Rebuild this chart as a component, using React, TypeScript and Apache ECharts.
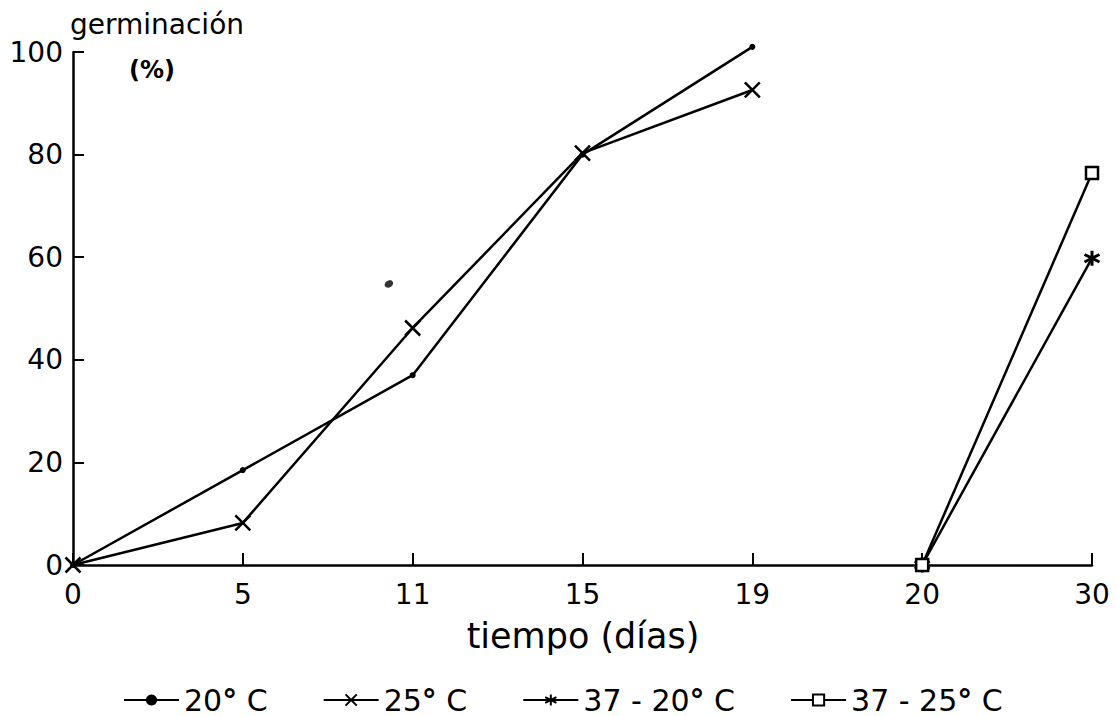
import React, { useEffect, useRef } from "react";
import * as echarts from "echarts";

// x axis categories (days) and y ticks
const categories = ["0", "5", "11", "15", "19", "20", "30"];
const yMin = 0;
const yMax = 100;
const yInterval = 20;

// series values
const days20 = ["0", "5", "11", "15", "19"];
const germ20 = [0, 18.5, 37, 80, 101];
const days25 = ["0", "5", "11", "15", "19"];
const germ25 = [0, 8.2, 46.2, 80.3, 92.6];
const days3720 = ["20", "30"];
const germ3720 = [0, 59.8];
const days3725 = ["20", "30"];
const germ3725 = [0, 76.4];

// stray mark present in the figure (position in category-index units)
const strayX = [1.86];
const strayY = [54.8];

const seriesNames = ["20° C", "25° C", "37 - 20° C", "37 - 25° C"];

const FONT = "DejaVu Sans";

function pts(days: string[], vals: number[]) {
  return days.map((d, i) => [categories.indexOf(d), vals[i]]);
}

const X_PATH = "path://M0,0L10,10M0,10L10,0";
const AST_PATH = "path://M5,0L5,10M0.7,2.5L9.3,7.5M0.7,7.5L9.3,2.5";

export default function App() {
  const ref = useRef<HTMLDivElement>(null);
  useEffect(() => {
    if (!ref.current) return;
    const chart = echarts.init(ref.current, undefined, { renderer: "svg" });
    const lineStyle = { color: "#000", width: 2.5 };
    chart.setOption({
      animation: false,
      backgroundColor: "#fff",
      grid: { left: 73, right: 25, top: 52, bottom: 151, containLabel: false },
      xAxis: {
        type: "value",
        min: 0,
        max: categories.length - 1,
        interval: 1,
        axisLine: { show: true, onZero: false, lineStyle: { color: "#000", width: 2.5 } },
        axisTick: { show: true, inside: true, length: 12, lineStyle: { color: "#000", width: 2 } },
        splitLine: { show: false },
        axisLabel: {
          color: "#000",
          fontFamily: FONT,
          fontSize: 28,
          margin: 15,
          formatter: (v: number) => categories[Math.round(v)] ?? "",
        },
      },
      yAxis: {
        type: "value",
        min: yMin,
        max: yMax,
        interval: yInterval,
        axisLine: { show: true, lineStyle: { color: "#000", width: 2.5 } },
        axisTick: { show: true, inside: true, length: 11, lineStyle: { color: "#000", width: 2 } },
        splitLine: { show: false },
        axisLabel: { color: "#000", fontFamily: FONT, fontSize: 28, margin: 10 },
      },
      legend: {
        data: seriesNames,
        left: 118,
        top: 680,
        itemWidth: 55,
        itemHeight: 14,
        itemGap: 55,
        textStyle: {
          color: "#000",
          fontFamily: FONT,
          fontSize: 30,
          rich: { d: { fontWeight: "bold", fontSize: 30, fontFamily: FONT, color: "#000" } },
        },
        formatter: (name: string) => name.replace("°", "{d|°}"),
      },
      graphic: [
        {
          type: "text",
          left: 70,
          top: 10,
          style: { text: "germinación", font: `28px "${FONT}"`, fill: "#000" },
        },
        {
          type: "text",
          x: 152,
          y: 70,
          style: {
            text: "(%)",
            font: `bold 24px "${FONT}"`,
            fill: "#000",
            textAlign: "center",
            textVerticalAlign: "middle",
          },
        },
        {
          type: "text",
          x: 583,
          y: 636,
          style: {
            text: "tiempo (días)",
            font: `35px "${FONT}"`,
            fill: "#000",
            textAlign: "center",
            textVerticalAlign: "middle",
          },
        },
      ],
      series: [
        {
          name: seriesNames[0],
          type: "line",
          data: pts(days20, germ20),
          clip: false,
          symbol: "circle",
          symbolSize: 6,
          lineStyle,
          itemStyle: { color: "#000" },
        },
        {
          name: seriesNames[1],
          type: "line",
          data: pts(days25, germ25),
          clip: false,
          symbol: X_PATH,
          symbolSize: 15,
          lineStyle,
          itemStyle: { color: "#000", borderColor: "#000", borderWidth: 2.5 },
        },
        {
          name: seriesNames[2],
          type: "line",
          data: pts(days3720, germ3720),
          clip: false,
          symbol: AST_PATH,
          symbolSize: 15,
          lineStyle,
          itemStyle: { color: "#000", borderColor: "#000", borderWidth: 3 },
        },
        {
          name: seriesNames[3],
          type: "line",
          data: pts(days3725, germ3725),
          clip: false,
          symbol: "rect",
          symbolSize: 12,
          lineStyle,
          itemStyle: { color: "#fff", borderColor: "#000", borderWidth: 2.5 },
        },
        {
          name: "mark",
          type: "scatter",
          data: strayX.map((x, i) => [x, strayY[i]]),
          symbol: "circle",
          symbolSize: [9, 7],
          symbolRotate: 30,
          itemStyle: { color: "#000" },
          silent: true,
        },
      ],
    });
    return () => chart.dispose();
  }, []);
  return (
    <div
      ref={ref}
      style={{ position: "fixed", left: 0, top: 0, width: 1117, height: 716, background: "#fff" }}
    />
  );
}
